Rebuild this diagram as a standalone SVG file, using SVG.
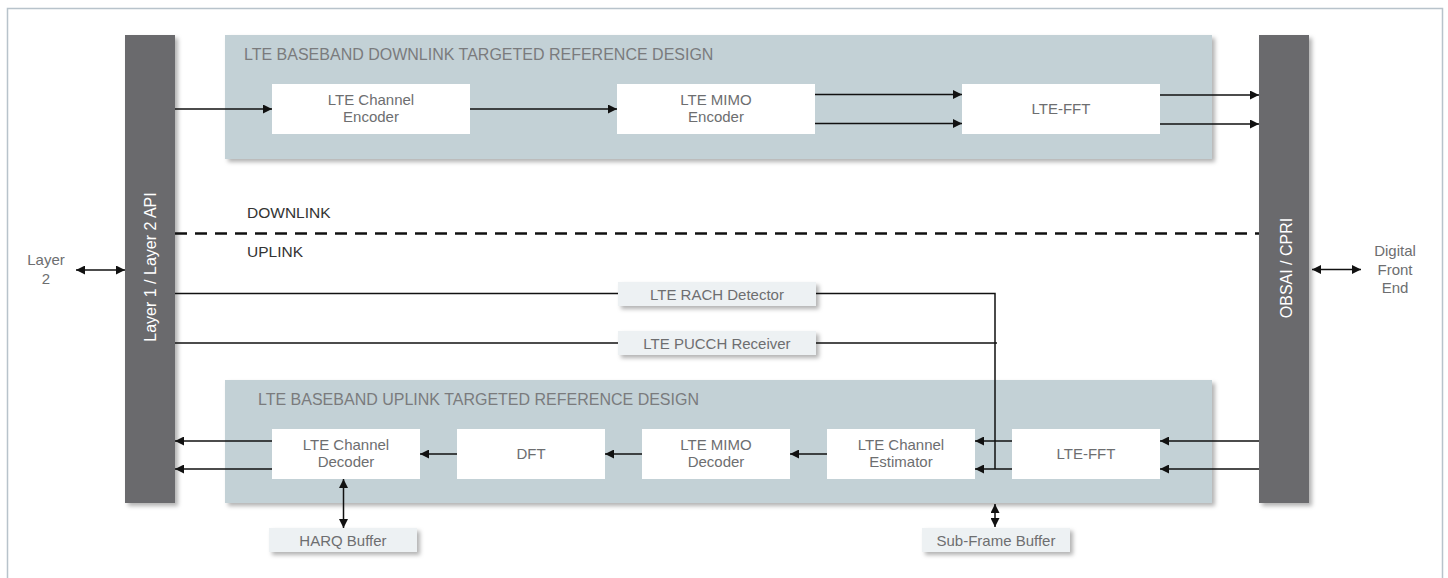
<svg xmlns="http://www.w3.org/2000/svg" width="1448" height="578" viewBox="0 0 1448 578">
<defs>
<filter id="sh" x="-10%" y="-10%" width="130%" height="140%">
<feDropShadow dx="3" dy="3" stdDeviation="2" flood-color="#000" flood-opacity="0.3"/>
</filter>
<marker id="ah" viewBox="0 0 10 10" refX="10" refY="5" markerWidth="9" markerHeight="9" markerUnits="userSpaceOnUse" orient="auto-start-reverse">
<path d="M0,0 L10,5 L0,10 z" fill="#111"/>
</marker>
<style>
text{font-family:"Liberation Sans",Arial,sans-serif}
.bar{fill:#6b6b6d}
.grp{fill:#c3d1d6}
.node{fill:#ffffff}
.aux{fill:#edf1f3}
.lbl{font-size:15px;fill:#6d6e70;text-anchor:middle}
.title{font-size:16px;fill:#7a7b7d}
.dir{font-size:15.5px;fill:#333}
.vert{font-size:16px;fill:#ffffff;text-anchor:middle}
.side{font-size:15px;fill:#6d6e70;text-anchor:middle}
.c{stroke:#111;stroke-width:1.5;fill:none}
.ca{stroke:#111;stroke-width:1.5;fill:none;marker-end:url(#ah)}
.cd{stroke:#111;stroke-width:1.5;fill:none;marker-start:url(#ah);marker-end:url(#ah)}
</style>
</defs>
<rect x="0" y="0" width="1448" height="578" fill="#fff"/>
<path d="M7.5,590 V8.5 H1442.5 V590" fill="none" stroke="#b8c3cb" stroke-width="1.5"/>

<g id="downlink-group">
<rect class="grp" x="225" y="35" width="987" height="124" filter="url(#sh)"/>
<text class="title" x="244" y="60">LTE BASEBAND DOWNLINK TARGETED REFERENCE DESIGN</text>
</g>
<g id="uplink-group">
<rect class="grp" x="225" y="380" width="987" height="123" filter="url(#sh)"/>
<text class="title" x="258" y="405">LTE BASEBAND UPLINK TARGETED REFERENCE DESIGN</text>
</g>

<g id="api-bar">
<rect class="bar" x="125" y="35" width="50" height="468" filter="url(#sh)"/>
<text class="vert" transform="translate(156,267) rotate(-90)">Layer 1 / Layer 2 API</text>
</g>
<g id="cpri-bar">
<rect class="bar" x="1259" y="35" width="50" height="468" filter="url(#sh)"/>
<text class="vert" transform="translate(1291.5,268) rotate(-90)">OBSAI / CPRI</text>
</g>

<g id="layer2">
<text class="side" x="46" y="265">Layer</text>
<text class="side" x="46" y="284">2</text>
</g>
<g id="dfe">
<text class="side" x="1395" y="256">Digital</text>
<text class="side" x="1395" y="274.5">Front</text>
<text class="side" x="1395" y="293">End</text>
</g>

<g id="dl-chenc">
<rect class="node" x="272" y="84" width="198" height="50"/>
<text class="lbl" x="371" y="105">LTE Channel</text>
<text class="lbl" x="371" y="122">Encoder</text>
</g>
<g id="dl-mimoenc">
<rect class="node" x="617" y="84" width="198" height="50"/>
<text class="lbl" x="716" y="105">LTE MIMO</text>
<text class="lbl" x="716" y="122">Encoder</text>
</g>
<g id="dl-fft">
<rect class="node" x="962" y="84" width="198" height="50"/>
<text class="lbl" x="1061" y="114">LTE-FFT</text>
</g>

<g id="rach">
<rect class="aux" x="618" y="282" width="198" height="24" filter="url(#sh)"/>
<text class="lbl" x="717" y="300">LTE RACH Detector</text>
</g>
<g id="pucch">
<rect class="aux" x="618" y="331" width="198" height="24" filter="url(#sh)"/>
<text class="lbl" x="717" y="348.5">LTE PUCCH Receiver</text>
</g>

<g id="ul-chdec">
<rect class="node" x="272" y="429" width="148" height="50"/>
<text class="lbl" x="346" y="450">LTE Channel</text>
<text class="lbl" x="346" y="467">Decoder</text>
</g>
<g id="ul-dft">
<rect class="node" x="457" y="429" width="148" height="50"/>
<text class="lbl" x="531" y="459">DFT</text>
</g>
<g id="ul-mimodec">
<rect class="node" x="642" y="429" width="148" height="50"/>
<text class="lbl" x="716" y="450">LTE MIMO</text>
<text class="lbl" x="716" y="467">Decoder</text>
</g>
<g id="ul-chest">
<rect class="node" x="827" y="429" width="148" height="50"/>
<text class="lbl" x="901" y="450">LTE Channel</text>
<text class="lbl" x="901" y="467">Estimator</text>
</g>
<g id="ul-fft">
<rect class="node" x="1012" y="429" width="148" height="50"/>
<text class="lbl" x="1086" y="459">LTE-FFT</text>
</g>

<g id="harq">
<rect class="aux" x="269" y="528" width="148" height="24" filter="url(#sh)"/>
<text class="lbl" x="343" y="546">HARQ Buffer</text>
</g>
<g id="sfb">
<rect class="aux" x="922" y="528" width="148" height="24" filter="url(#sh)"/>
<text class="lbl" x="996" y="546">Sub-Frame Buffer</text>
</g>

<g id="labels">
<text class="dir" x="247" y="218">DOWNLINK</text>
<text class="dir" x="247" y="257">UPLINK</text>
</g>

<g id="connectors">
<line x1="175" y1="233.5" x2="1259" y2="233.5" stroke="#111" stroke-width="2.5" stroke-dasharray="12,8"/>
<line class="ca" x1="175" y1="109" x2="272" y2="109"/>
<line class="ca" x1="470" y1="109" x2="617" y2="109"/>
<line class="ca" x1="815" y1="94.5" x2="962" y2="94.5"/>
<line class="ca" x1="815" y1="123.5" x2="962" y2="123.5"/>
<line class="ca" x1="1160" y1="95" x2="1259" y2="95"/>
<line class="ca" x1="1160" y1="124" x2="1259" y2="124"/>
<line class="cd" x1="76" y1="270" x2="125" y2="270"/>
<line class="cd" x1="1312" y1="269.5" x2="1361" y2="269.5"/>
<line class="c" x1="175" y1="293.5" x2="618" y2="293.5"/>
<polyline class="c" points="816,293.5 995,293.5 995,469"/>
<line class="c" x1="175" y1="343" x2="618" y2="343"/>
<line class="c" x1="816" y1="343" x2="997" y2="343"/>
<line class="ca" x1="1259" y1="441" x2="1160" y2="441"/>
<line class="ca" x1="1259" y1="469" x2="1160" y2="469"/>
<line class="ca" x1="1012" y1="441" x2="975" y2="441"/>
<line class="ca" x1="1012" y1="469" x2="975" y2="469"/>
<line class="ca" x1="827" y1="454" x2="790" y2="454"/>
<line class="ca" x1="642" y1="454" x2="605" y2="454"/>
<line class="ca" x1="457" y1="454" x2="420" y2="454"/>
<line class="ca" x1="272" y1="441" x2="175" y2="441"/>
<line class="ca" x1="272" y1="469" x2="175" y2="469"/>
<line class="cd" x1="343.5" y1="479" x2="343.5" y2="528"/>
<line class="cd" x1="995" y1="504" x2="995" y2="527"/>
</g>
</svg>
